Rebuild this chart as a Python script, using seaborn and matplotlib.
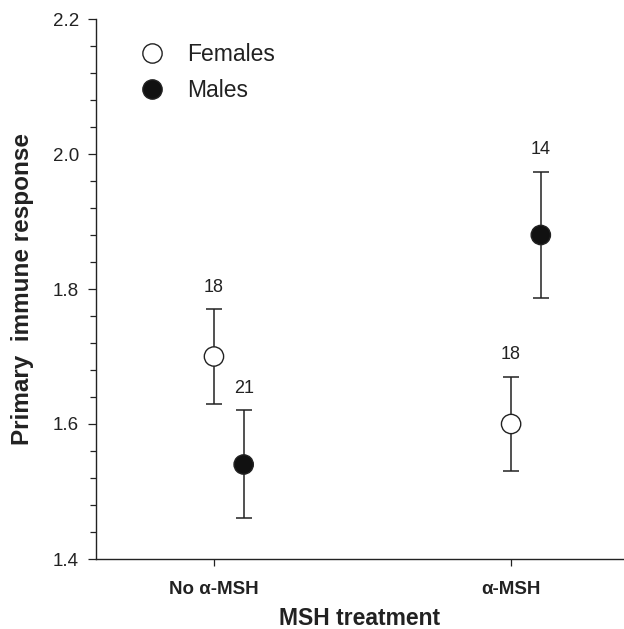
import matplotlib
matplotlib.use("Agg")
import matplotlib.pyplot as plt
from matplotlib.lines import Line2D
from matplotlib.ticker import MultipleLocator
import numpy as np
import pandas as pd
import seaborn as sns

# ---- data ----
treatments = ["No \u03b1-MSH", "\u03b1-MSH"]
sexes = ["Females", "Males"]
female_mean = [1.70, 1.60]
female_err = [0.07, 0.07]
male_mean = [1.54, 1.88]
male_err = [0.08, 0.094]
female_n = [18, 18]
male_n = [21, 14]

sns.set_theme(style="ticks")
plt.rcParams["font.family"] = ["Liberation Sans", "DejaVu Sans"]

rows = []
for i, t in enumerate(treatments):
    rows.append(dict(treatment=t, sex="Females", mean=female_mean[i], err=female_err[i], n=female_n[i], pos=i))
    rows.append(dict(treatment=t, sex="Males", mean=male_mean[i], err=male_err[i], n=male_n[i], pos=i + 0.1))
df = pd.DataFrame(rows)

fig = plt.figure(figsize=(6.24, 6.29), dpi=100)
ax = fig.add_axes([96 / 624, 1 - 559 / 629, 1 - 96 / 624, (559 - 19) / 629])

line_col = "#222222"
palette = {"Females": "white", "Males": "#111111"}

# error bars
for _, r in df.iterrows():
    ax.errorbar(r["pos"], r["mean"], yerr=r["err"], fmt="none", ecolor=line_col,
                elinewidth=1.1, capsize=5.8, capthick=1.1, zorder=2)

sns.scatterplot(data=df, x="pos", y="mean", hue="sex", palette=palette,
                s=13.9 ** 2, edgecolor=line_col, linewidth=1.0, legend=False,
                zorder=3, ax=ax)

# sample sizes
for _, r in df.iterrows():
    ax.annotate(str(r["n"]), (r["pos"], r["mean"] + r["err"]), xytext=(0, 16),
                textcoords="offset points", ha="center", va="center",
                fontsize=13, color=line_col)

ax.set_xlim(-0.397, 1.380)
ax.set_ylim(1.4, 2.2)
ax.set_xticks([0, 1])
ax.set_xticklabels(treatments, fontweight="bold", fontsize=13.5)
ax.set_yticks([1.4, 1.6, 1.8, 2.0, 2.2])
ax.set_yticklabels(["1.4", "1.6", "1.8", "2.0", "2.2"], fontsize=13.5)
ax.yaxis.set_minor_locator(MultipleLocator(0.04))
ax.tick_params(axis="y", which="major", length=5.8, width=0.9, pad=6.5, color=line_col, labelcolor=line_col)
ax.tick_params(axis="y", which="minor", length=4.3, width=0.9, color=line_col)
ax.tick_params(axis="x", which="major", length=5.0, width=0.9, pad=10.5, color=line_col, labelcolor=line_col)
ax.tick_params(axis="x", which="minor", length=0)

for s in ["top", "right"]:
    ax.spines[s].set_visible(False)
for s in ["left", "bottom"]:
    ax.spines[s].set_linewidth(1.0)
    ax.spines[s].set_color(line_col)

ax.set_xlabel("MSH treatment", fontsize=16.5, fontweight="bold", color=line_col)
ax.set_ylabel("Primary  immune response", fontsize=17.5, fontweight="bold", color=line_col)
ax.xaxis.set_label_coords(0.5, -(607 - 559) / 540)
ax.yaxis.set_label_coords(-(96 - 34) / 528, 0.5)

handles = [Line2D([], [], ls="none", marker="o", markersize=13.9,
                  markerfacecolor=palette[s], markeredgecolor=line_col, markeredgewidth=1.0)
           for s in sexes]
leg = ax.legend(handles, sexes, loc="upper left", bbox_to_anchor=(0.0843, 0.955),
                frameon=False, fontsize=16.5, handlelength=1.0, handletextpad=1.03,
                labelspacing=0.55, borderpad=0, borderaxespad=0)
for t in leg.get_texts():
    t.set_color(line_col)

fig.savefig("out.png", dpi=100)
